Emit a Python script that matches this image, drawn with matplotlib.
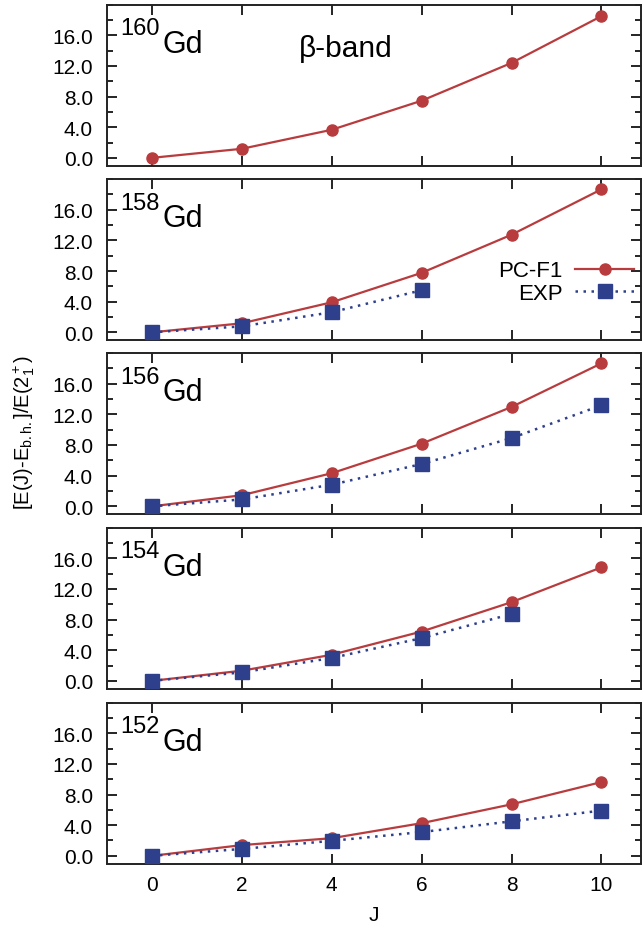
import numpy as np
import matplotlib

matplotlib.use("Agg")
import matplotlib.pyplot as plt
from matplotlib.ticker import MultipleLocator, FormatStrFormatter

plt.rcParams["font.family"] = ["Liberation Sans", "DejaVu Sans"]
plt.rcParams["mathtext.fontset"] = "custom"
plt.rcParams["mathtext.rm"] = "Liberation Sans"
plt.rcParams["mathtext.it"] = "Liberation Sans:italic"
plt.rcParams["mathtext.bf"] = "Liberation Sans:bold"

# data
J = [0, 2, 4, 6, 8, 10]
nuclei = ["160", "158", "156", "154", "152"]

pc_160 = [0.0, 1.18, 3.66, 7.45, 12.38, 18.48]
pc_158 = [0.0, 1.18, 3.92, 7.76, 12.73, 18.65]
pc_156 = [0.0, 1.45, 4.32, 8.17, 12.96, 18.65]
pc_154 = [0.0, 1.32, 3.40, 6.43, 10.26, 14.80]
pc_152 = [0.0, 1.40, 2.30, 4.26, 6.72, 9.62]

exp_160 = []
exp_158 = [0.0, 0.78, 2.62, 5.49]
exp_156 = [0.0, 0.90, 2.82, 5.52, 8.90, 13.18]
exp_154 = [0.0, 1.10, 2.98, 5.57, 8.72]
exp_152 = [0.0, 0.90, 1.96, 3.10, 4.50, 5.90]

pc_all = [pc_160, pc_158, pc_156, pc_154, pc_152]
exp_all = [exp_160, exp_158, exp_156, exp_154, exp_152]

RED = "#b83c3e"
BLUE = "#2e3f8c"

W, H = 643, 929
fig = plt.figure(figsize=(W / 100, H / 100), dpi=100)

left_px, right_px = 107, 640.5
tops_px = [5.5, 180, 354, 528.5, 703.5]
panel_h = 161

axes = []
for k, top in enumerate(tops_px):
    ax = fig.add_axes([left_px / W, 1 - (top + panel_h) / H,
                       (right_px - left_px) / W, panel_h / H])
    axes.append(ax)

    pc = pc_all[k]
    ex = exp_all[k]
    ax.plot(J[:len(pc)], pc, "-o", color=RED, lw=1.6, ms=8,
            label="PC-F1", zorder=3)
    if ex:
        ax.plot(J[:len(ex)], ex, linestyle=(0, (1, 2.2)), marker="s",
                color=BLUE, lw=1.8, ms=9.5, label="EXP", zorder=4)

    ax.set_xlim(-1, 10.87)
    ax.set_ylim(-1, 20)
    ax.set_xticks(J)
    ax.yaxis.set_minor_locator(MultipleLocator(2))
    ax.set_yticks([0, 4, 8, 12, 16])
    ax.yaxis.set_major_formatter(FormatStrFormatter("%.1f"))
    ax.tick_params(which="both", direction="in", top=True, right=True,
                   width=1.2, labelsize=15)
    ax.tick_params(which="major", length=7)
    ax.tick_params(which="minor", length=4)
    ax.tick_params(axis="y", pad=10)
    for s in ax.spines.values():
        s.set_linewidth(1.4)
        s.set_color("#222222")
    if k < 4:
        ax.tick_params(labelbottom=False)

    ax.text(0.024, 0.815, nuclei[k], transform=ax.transAxes,
            fontsize=17, ha="left", va="baseline")
    ax.text(0.1037, 0.708, "Gd", transform=ax.transAxes,
            fontsize=22, ha="left", va="baseline")

axes[0].text(0.448, 0.68, "β-band", transform=axes[0].transAxes,
             fontsize=21.5, ha="center", va="baseline")

axes[1].legend(loc="center right", bbox_to_anchor=(0.988, 0.36),
               frameon=False, markerfirst=False, fontsize=16,
               handlelength=2.65, handletextpad=0.55, labelspacing=0.05,
               borderpad=0, borderaxespad=0, numpoints=1)

axes[4].set_xlabel("J", fontsize=15, labelpad=8)
axes[4].tick_params(axis="x", pad=8)

fig.text(24 / W, 1 - 432 / H,
         r"[E(J)-E$_{\rm b.h.}$]/E(2$_1^+$)",
         rotation=90, ha="center", va="center", fontsize=14.5)

fig.savefig("out.png", dpi=100)
